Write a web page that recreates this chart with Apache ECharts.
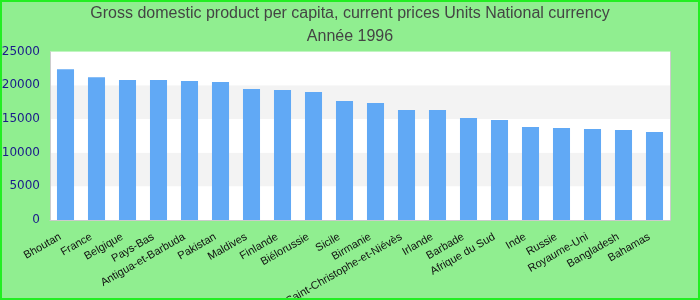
<!DOCTYPE html>
<html><head><meta charset="utf-8">
<script src="https://cdn.jsdelivr.net/npm/echarts@6/dist/echarts.min.js"></script>
<style>html,body{margin:0;padding:0;background:#90ee90;}#c{width:696px;height:296px;border:2px solid #22ee22;}</style>
</head><body><div id="c"></div>
<script>
const categories = ["Bhoutan","France","Belgique","Pays-Bas","Antigua-et-Barbuda","Pakistan","Maldives","Finlande","Biélorussie","Sicile","Birmanie","Saint-Christophe-et-Niévès","Irlande","Barbade","Afrique du Sud","Inde","Russie","Royaume-Uni","Bangladesh","Bahamas"];
const values = [22400,21200,20800,20800,20650,20500,19450,19300,19000,17680,17380,16340,16340,15150,14850,13810,13670,13520,13370,13070];
const yTicks = [0,5000,10000,15000,20000,25000];
const chart = echarts.init(document.getElementById('c'));
chart.setOption({
  backgroundColor: '#90ee90',
  animation: false,
  title: {
    text: 'Gross domestic product per capita, current prices Units National currency\nAnnée 1996',
    left: 'center', top: 0, padding: 0,
    textStyle: {fontFamily: 'Liberation Sans', fontSize: 16, fontWeight: 'normal', color: '#444', lineHeight: 23}
  },
  grid: {left: 48, right: 28, top: 49.7, bottom: 78, show: true, backgroundColor: '#fff', borderWidth: 0, outerBoundsMode: 'none', containLabel: false},
  xAxis: {
    type: 'category', data: categories,
    axisLine: {lineStyle: {color: '#ccc'}},
    axisTick: {show: false},
    axisLabel: {rotate: 30, interval: 0, fontFamily: 'Liberation Sans', fontSize: 11, color: '#111', margin: 13, padding: [0, 6, 0, 0]}
  },
  yAxis: [{
    type: 'value', min: yTicks[0], max: yTicks[yTicks.length-1], interval: 5000,
    axisLine: {show: true, lineStyle: {color: '#ccc'}},
    axisTick: {show: false},
    splitLine: {show: false},
    splitArea: {show: true, areaStyle: {color: ['#ffffff', '#f3f3f3']}},
    axisLabel: {fontFamily: 'DejaVu Sans', fontSize: 12, color: '#1a1a8a', margin: 10, formatter: v => String(v)}
  }, {
    type: 'value', position: 'right', min: 0, max: 25000, interval: 5000,
    axisLine: {show: true, lineStyle: {color: '#ccc'}},
    axisTick: {show: false}, axisLabel: {show: false}, splitLine: {show: false}
  }],
  series: [{type: 'bar', data: values, barWidth: '55%', itemStyle: {color: '#61a9f5'}}]
});
</script></body></html>
